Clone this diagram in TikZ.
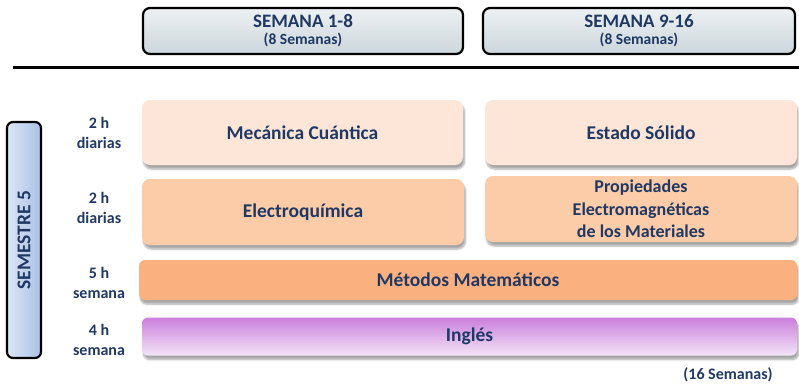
\documentclass[tikz,border=0pt]{standalone}
\usepackage{fontspec}
\setmainfont{Carlito}
\usetikzlibrary{shadows.blur}
\definecolor{mytextcolor}{HTML}{1F3864}
\definecolor{myheadtop}{HTML}{EDF1F3}
\definecolor{myheadbottom}{HTML}{CCD6DB}
\definecolor{mysemleft}{HTML}{DCE6F5}
\definecolor{mysemright}{HTML}{A9C0E5}
\definecolor{mylightcolor}{HTML}{FDE6D8}
\definecolor{mymidcolor}{HTML}{FCCBA7}
\definecolor{mydarkcolor}{HTML}{FBB07F}
\definecolor{myingtop}{HTML}{CB7EDC}
\definecolor{myingbottom}{HTML}{F3E5F7}

\tikzset{
  headbox/.style={draw=black, line width=2.2pt, rounded corners=7pt, top color=myheadtop, bottom color=myheadbottom, text=mytextcolor, align=center, font=\bfseries\fontsize{19pt}{19pt}\selectfont},
  subjbox/.style={rounded corners=8pt, text=mytextcolor, align=center, font=\bfseries\fontsize{19.5pt}{22.5pt}\selectfont, blur shadow={shadow xshift=1.5pt, shadow yshift=-4pt, shadow blur steps=6, shadow opacity=35}},
  hourlabel/.style={text=mytextcolor, align=center, font=\bfseries\fontsize{16pt}{20pt}\selectfont}
}

\begin{document}
\begin{tikzpicture}[x=1pt, y=-1pt]%
\useasboundingbox (0,0) rectangle (799,388);%
\node[headbox, minimum width=320pt, minimum height=46pt] (sem1) at (303, 31) {SEMANA 1-8\\[-2pt]{\fontsize{15.5pt}{15.5pt}\selectfont (8 Semanas)}};%
\node[headbox, minimum width=312pt, minimum height=46pt] (sem2) at (639, 31) {SEMANA 9-16\\[-2pt]{\fontsize{15.5pt}{15.5pt}\selectfont (8 Semanas)}};%
\draw[line width=3pt] (13, 67) -- (799, 67);%
\node[draw=black, line width=2.2pt, rounded corners=6pt, left color=mysemleft, right color=mysemright, minimum width=34pt, minimum height=236pt] (semestre) at (24, 240) {};%
\node[text=mytextcolor, font=\bfseries\fontsize{19.5pt}{19.5pt}\selectfont, rotate=90] (semlabel) at (semestre.center) {SEMESTRE 5};%
\node[hourlabel] (h1) at (99, 133) {2 h\\diarias};%
\node[hourlabel] (h2) at (99, 208) {2 h\\diarias};%
\node[hourlabel] (h3) at (99, 283) {5 h\\semana};%
\node[hourlabel] (h4) at (99, 340) {4 h\\semana};%
\node[subjbox, fill=mylightcolor, minimum width=321pt, minimum height=65pt] (mecanica) at (302.5, 132.5) {Mecánica Cuántica};%
\node[subjbox, fill=mylightcolor, minimum width=312pt, minimum height=65pt] (solido) at (641, 132.5) {Estado Sólido};%
\node[subjbox, fill=mymidcolor, minimum width=322pt, minimum height=66pt] (electro) at (303, 212) {Electroquímica};%
\node[subjbox, fill=mymidcolor, minimum width=312pt, minimum height=66pt, font=\bfseries\fontsize{18pt}{22.5pt}\selectfont] (propiedades) at (641, 209) {Propiedades\\Electromagnéticas\\de los Materiales};%
\node[subjbox, fill=mydarkcolor, minimum width=658pt, minimum height=40pt, rounded corners=6pt] (metodos) at (468, 280) {Métodos Matemáticos};%
\node[subjbox, top color=myingtop, bottom color=myingbottom, minimum width=655pt, minimum height=38pt, rounded corners=6pt] (ingles) at (469.5, 336.5) {Inglés};%
\node[hourlabel] (total) at (728, 375) {(16 Semanas)};%
\end{tikzpicture}
\end{document}
